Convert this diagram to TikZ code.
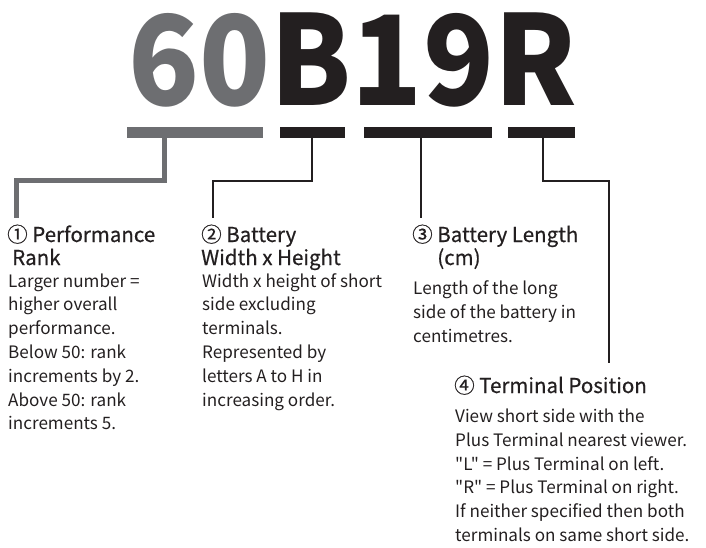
\documentclass[tikz,border=0pt]{standalone}
\usepackage{fontspec}
\setmainfont{Noto Sans CJK JP}
\newfontfamily\bodyfont{Noto Sans CJK JP}
\newfontfamily\titlefont[FakeBold=0.6]{Noto Sans CJK JP}
\definecolor{gr}{HTML}{6D6E71}
\definecolor{bk}{HTML}{231F20}
\begin{document}
\begin{tikzpicture}[x=1pt,y=-1pt,
  gbar/.style={rectangle,fill=gr,draw=none,inner sep=0,minimum height=11pt},
  kbar/.style={rectangle,fill=bk,draw=none,inner sep=0,minimum height=11pt},
  gline/.style={draw=gr,line width=5pt},
  kline/.style={draw=bk,line width=1.5pt},
  ttl/.style={inner sep=0,anchor=base west,align=left,text=bk,font=\titlefont\fontsize{20.5}{23}\selectfont},
  body/.style={inner sep=0,anchor=base west,align=left,text=bk,font=\bodyfont\fontsize{17.1}{23.8}\selectfont}]
\useasboundingbox (0,0) rectangle (706,548);
% big code
\node[inner sep=0,anchor=base west,text height=95pt,text depth=0pt,font=\bfseries\fontsize{124.5}{124.5}\selectfont] (code) at (128.5,106)
  {\scalebox{0.9375}[1]{\textcolor{gr}{60}\textcolor{bk}{B19R}}};
% bars
\node[gbar,minimum width=136pt] (bar1) at (195,132.5) {};
\node[kbar,minimum width=65pt] (bar2) at (312.5,132.5) {};
\node[kbar,minimum width=128pt] (bar3) at (428,132.5) {};
\node[kbar,minimum width=67pt] (bar4) at (541.5,132.5) {};
% connector turning points
\coordinate (g1) at (164,180.5);
\coordinate (g2) at (16.5,180.5);
\coordinate (g3) at (16.5,218);
\coordinate (b1) at (312,181);
\coordinate (b2) at (213,181);
\coordinate (b3) at (213,218);
\coordinate (n3) at (421,218);
\coordinate (r1) at (543,181);
\coordinate (r2) at (609,181);
\coordinate (r3) at (609,363);
\draw[gline] (bar1.south -| g1) -- (g1) -- (g2) -- (g3);
\draw[kline] (bar2.south -| b1) -- (b1) -- (b2) -- (b3);
\draw[kline] (bar3.south -| n3) -- (n3);
\draw[kline] (bar4.south -| r1) -- (r1) -- (r2) -- (r3);
% texts (base anchor = baseline of last line)
\node[ttl] (t1) at (7,265) {① Performance\\\hspace*{5pt}Rank};
\node[body] (d1) at (8,429.8) {Larger number =\\higher overall\\performance.\\Below 50: rank\\increments by 2.\\Above 50: rank\\increments 5.};
\node[ttl] (t2) at (201,265) {② Battery\\Width x Height};
\node[body] (d2) at (202,406) {Width x height of short\\side excluding\\terminals.\\Represented by\\letters A to H in\\increasing order.};
\node[ttl] (t3) at (412,265) {③ Battery Length\\\phantom{③ }(cm)};
\node[body] (d3) at (413,342) {Length of the long\\side of the battery in\\centimetres.};
\node[ttl] (t4) at (454,393) {④ Terminal Position};
\node[body] (d4) at (455,541.5) {View short side with the\\Plus Terminal nearest viewer.\\"L" = Plus Terminal on left.\\"R" = Plus Terminal on right.\\If neither specified then both\\terminals on same short side.};
\end{tikzpicture}
\end{document}
